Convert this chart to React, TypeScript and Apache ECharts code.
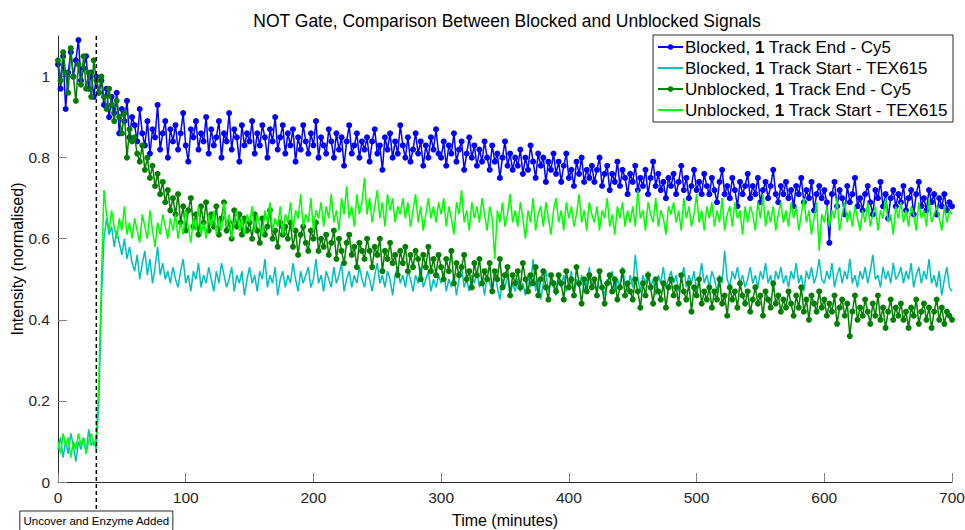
import React, { useEffect, useRef } from "react";
import * as echarts from "echarts";

// sampling interval of the recorded traces (minutes)
const STEP = 2;
const ANNOT_T = 30;
const X_MAX = 700;
const Y_MAX = 1.1;
const xTicks = [0, 100, 200, 300, 400, 500, 600, 700];
const yTicks = [0, 0.2, 0.4, 0.6, 0.8, 1];

const seriesNames = [
  "Blocked, 1 Track End - Cy5",
  "Blocked, 1 Track Start - TEX615",
  "Unblocked, 1 Track End - Cy5",
  "Unblocked, 1 Track Start - TEX615",
];

const blockedCy5 = [
  1.03, 0.97, 1.05, 0.92, 1.01, 1.06, 1.0, 1.04, 1.09, 0.99, 1.02, 1.05, 0.97, 1.01, 0.95,
  1.0, 0.96, 0.99, 0.93, 0.97, 0.9, 0.95, 0.91, 0.96, 0.86, 0.92, 0.89, 0.94, 0.85, 0.9,
  0.88, 0.84, 0.92, 0.86, 0.83, 0.89, 0.81, 0.87, 0.85, 0.93, 0.82, 0.86, 0.89, 0.8, 0.87,
  0.84, 0.88, 0.82, 0.86, 0.91, 0.83, 0.79, 0.87, 0.85, 0.89, 0.82, 0.86, 0.84, 0.9, 0.81,
  0.87, 0.83, 0.85, 0.89, 0.8, 0.86, 0.84, 0.91, 0.82, 0.87, 0.85, 0.79, 0.88, 0.83, 0.86,
  0.84, 0.89, 0.81, 0.86, 0.83, 0.88, 0.85, 0.8, 0.87, 0.84, 0.9, 0.82, 0.85, 0.88, 0.81,
  0.86, 0.83, 0.87, 0.79, 0.85, 0.82, 0.88, 0.84, 0.81, 0.86, 0.83, 0.89, 0.8, 0.85, 0.83,
  0.81, 0.87, 0.84, 0.8, 0.86, 0.82, 0.85, 0.78, 0.84, 0.88, 0.81, 0.83, 0.86, 0.8, 0.84,
  0.82, 0.85, 0.79, 0.84, 0.87, 0.81, 0.83, 0.77, 0.85, 0.82, 0.86, 0.8, 0.84, 0.81, 0.88,
  0.83, 0.8, 0.85, 0.79, 0.82, 0.86, 0.81, 0.84, 0.78, 0.83, 0.8, 0.85, 0.82, 0.87, 0.81,
  0.8, 0.84, 0.78, 0.83, 0.81, 0.86, 0.79, 0.82, 0.84, 0.77, 0.81, 0.85, 0.8, 0.83, 0.78,
  0.82, 0.79, 0.84, 0.8, 0.77, 0.83, 0.79, 0.81, 0.75, 0.8, 0.84, 0.78, 0.81, 0.77, 0.8,
  0.78, 0.82, 0.76, 0.8, 0.77, 0.83, 0.79, 0.75, 0.81, 0.78, 0.8, 0.74, 0.79, 0.77, 0.81,
  0.76, 0.79, 0.74, 0.78, 0.81, 0.75, 0.77, 0.73, 0.79, 0.76, 0.8, 0.74, 0.77, 0.75, 0.78,
  0.74, 0.77, 0.8, 0.73, 0.76, 0.78, 0.72, 0.76, 0.74, 0.79, 0.73, 0.77, 0.75, 0.71, 0.76,
  0.74, 0.78, 0.72, 0.75, 0.73, 0.77, 0.71, 0.75, 0.79, 0.73, 0.76, 0.72, 0.74, 0.7, 0.75,
  0.73, 0.76, 0.71, 0.74, 0.78, 0.72, 0.75, 0.7, 0.73, 0.77, 0.72, 0.74, 0.71, 0.76, 0.73,
  0.71, 0.75, 0.72, 0.69, 0.74, 0.77, 0.71, 0.73, 0.7, 0.75, 0.72, 0.68, 0.74, 0.71, 0.73,
  0.76, 0.7, 0.73, 0.71, 0.75, 0.69, 0.72, 0.74, 0.7, 0.73, 0.77, 0.71, 0.69, 0.73, 0.71,
  0.74, 0.7, 0.72, 0.68, 0.73, 0.71, 0.75, 0.69, 0.72, 0.7, 0.74, 0.67, 0.71, 0.73, 0.7,
  0.72, 0.69, 0.59, 0.71, 0.74, 0.68, 0.72, 0.7, 0.66, 0.73, 0.69, 0.71, 0.75, 0.68, 0.7,
  0.67, 0.71, 0.73, 0.69, 0.66, 0.72, 0.7, 0.74, 0.68, 0.71, 0.65, 0.7, 0.72, 0.68, 0.71,
  0.69, 0.73, 0.67, 0.7, 0.72, 0.66, 0.71, 0.74, 0.68, 0.7, 0.67, 0.72, 0.69, 0.71, 0.66,
  0.7, 0.68, 0.71, 0.67, 0.69, 0.68,
];

const blockedTex615 = [
  0.08, 0.11, 0.06, 0.1, 0.07, 0.12, 0.09, 0.05, 0.1, 0.08, 0.11, 0.07, 0.13, 0.09, 0.1,
  0.08, 0.2, 0.45, 0.6, 0.65, 0.61, 0.63, 0.58, 0.62, 0.59, 0.56, 0.6, 0.55, 0.58, 0.54,
  0.52, 0.56, 0.5, 0.54, 0.57, 0.51, 0.55, 0.49, 0.53, 0.58, 0.51, 0.54, 0.5, 0.52, 0.49,
  0.53, 0.5, 0.48, 0.52, 0.55, 0.49, 0.51, 0.47, 0.52, 0.5, 0.54, 0.48, 0.51, 0.49, 0.53,
  0.5, 0.47, 0.52, 0.49, 0.54, 0.51, 0.48, 0.5, 0.53, 0.47, 0.51, 0.49, 0.52, 0.46, 0.5,
  0.53, 0.49, 0.51, 0.47, 0.52, 0.5, 0.55, 0.48, 0.51, 0.49, 0.53, 0.46, 0.5, 0.52, 0.48,
  0.51, 0.49, 0.54, 0.5, 0.47, 0.52, 0.49, 0.51, 0.53, 0.48, 0.5, 0.55, 0.49, 0.51, 0.47,
  0.52, 0.5, 0.48, 0.53, 0.49, 0.51, 0.54, 0.47, 0.5, 0.52, 0.48, 0.51, 0.49, 0.53, 0.5,
  0.48, 0.52, 0.5, 0.47, 0.51, 0.54, 0.49, 0.51, 0.48, 0.52, 0.5, 0.46, 0.51, 0.53, 0.49,
  0.51, 0.48, 0.52, 0.5, 0.47, 0.51, 0.49, 0.53, 0.48, 0.5, 0.52, 0.47, 0.5, 0.48, 0.51,
  0.49, 0.52, 0.47, 0.5, 0.48, 0.51, 0.46, 0.5, 0.53, 0.48, 0.5, 0.47, 0.51, 0.49, 0.52,
  0.48, 0.5, 0.46, 0.51, 0.49, 0.47, 0.52, 0.48, 0.45, 0.5, 0.48, 0.51, 0.46, 0.49, 0.47,
  0.5, 0.47, 0.49, 0.46, 0.51, 0.48, 0.55, 0.47, 0.5, 0.45, 0.49, 0.52, 0.47, 0.5, 0.48,
  0.46, 0.5, 0.48, 0.51, 0.47, 0.49, 0.52, 0.46, 0.5, 0.48, 0.51, 0.47, 0.49, 0.53, 0.48,
  0.5, 0.47, 0.51, 0.48, 0.46, 0.5, 0.49, 0.52, 0.47, 0.5, 0.48, 0.53, 0.49, 0.47, 0.51,
  0.48, 0.56, 0.5, 0.47, 0.51, 0.49, 0.52, 0.48, 0.5, 0.46, 0.51, 0.49, 0.53, 0.48, 0.5,
  0.52, 0.49, 0.51, 0.47, 0.5, 0.53, 0.48, 0.51, 0.49, 0.52, 0.47, 0.5, 0.54, 0.49, 0.51,
  0.48, 0.52, 0.5, 0.47, 0.51, 0.49, 0.57, 0.5, 0.48, 0.52, 0.5, 0.53, 0.49, 0.51, 0.48,
  0.5, 0.53, 0.49, 0.51, 0.48, 0.52, 0.5, 0.54, 0.49, 0.51, 0.47, 0.52, 0.5, 0.53, 0.49,
  0.51, 0.48, 0.52, 0.5, 0.54, 0.49, 0.51, 0.47, 0.52, 0.5, 0.53, 0.49, 0.51, 0.55, 0.5,
  0.49, 0.52, 0.5, 0.54, 0.48, 0.51, 0.53, 0.49, 0.52, 0.5, 0.55, 0.49, 0.51, 0.48, 0.52,
  0.5, 0.53, 0.49, 0.52, 0.56, 0.5, 0.51, 0.48, 0.53, 0.5, 0.52, 0.49, 0.54, 0.5, 0.51,
  0.53, 0.49, 0.52, 0.5, 0.54, 0.48, 0.51, 0.53, 0.49, 0.52, 0.5, 0.55, 0.49, 0.51, 0.48,
  0.52, 0.46, 0.5, 0.53, 0.48, 0.47,
];

const unblockedCy5 = [
  1.04, 0.99, 1.06, 1.01, 0.96, 1.07, 1.0, 0.94, 1.03, 0.98, 1.05, 0.97, 1.01, 0.95, 1.04,
  0.99, 0.96, 1.0, 0.95, 0.92, 0.97, 0.93, 0.89, 0.94, 0.9, 0.86, 0.91, 0.8, 0.87, 0.84,
  0.85, 0.81, 0.79, 0.83, 0.77, 0.8, 0.75, 0.78, 0.73, 0.76, 0.71, 0.74, 0.69, 0.72, 0.67,
  0.7, 0.66, 0.71, 0.64, 0.68, 0.62, 0.67, 0.7, 0.63, 0.66, 0.61, 0.68, 0.64, 0.69, 0.62,
  0.66, 0.63, 0.68, 0.61, 0.65, 0.69, 0.62, 0.64, 0.6, 0.67, 0.63, 0.66, 0.61, 0.65, 0.62,
  0.64, 0.6, 0.66, 0.62, 0.59, 0.65, 0.61, 0.63, 0.67, 0.6, 0.62, 0.58, 0.64, 0.61, 0.63,
  0.6, 0.64, 0.58, 0.62, 0.56, 0.61, 0.63, 0.59, 0.57, 0.62, 0.6, 0.64, 0.57, 0.6, 0.58,
  0.61, 0.56, 0.59, 0.62, 0.55, 0.6, 0.57, 0.54, 0.59, 0.61, 0.56, 0.58, 0.53, 0.59, 0.57,
  0.55, 0.6, 0.57, 0.53, 0.58, 0.56, 0.6, 0.52, 0.57, 0.55, 0.59, 0.54, 0.56, 0.51, 0.57,
  0.54, 0.58, 0.52, 0.56, 0.53, 0.57, 0.55, 0.5, 0.56, 0.53, 0.58, 0.52, 0.55, 0.51, 0.56,
  0.53, 0.5, 0.55, 0.52, 0.57, 0.49, 0.54, 0.51, 0.53, 0.56, 0.5, 0.52, 0.48, 0.54, 0.51,
  0.55, 0.49, 0.52, 0.5, 0.54, 0.47, 0.52, 0.5, 0.55, 0.48, 0.51, 0.53, 0.46, 0.51, 0.49,
  0.52, 0.48, 0.54, 0.5, 0.47, 0.51, 0.49, 0.53, 0.46, 0.5, 0.52, 0.48, 0.45, 0.51, 0.49,
  0.47, 0.51, 0.49, 0.45, 0.52, 0.48, 0.5, 0.46, 0.53, 0.49, 0.44, 0.5, 0.47, 0.51, 0.48,
  0.5, 0.46, 0.52, 0.48, 0.44, 0.49, 0.51, 0.47, 0.5, 0.45, 0.48, 0.52, 0.46, 0.49, 0.47,
  0.45, 0.5, 0.47, 0.43, 0.49, 0.46, 0.51, 0.48, 0.44, 0.5, 0.47, 0.45, 0.49, 0.43, 0.48,
  0.5, 0.46, 0.48, 0.44, 0.51, 0.47, 0.45, 0.49, 0.42, 0.48, 0.46, 0.5, 0.44, 0.47, 0.45,
  0.48, 0.43, 0.47, 0.45, 0.5, 0.44, 0.46, 0.41, 0.48, 0.45, 0.47, 0.43, 0.49, 0.46, 0.44,
  0.47, 0.42, 0.45, 0.48, 0.44, 0.46, 0.41, 0.47, 0.45, 0.43, 0.49, 0.44, 0.46, 0.42, 0.45,
  0.43, 0.47, 0.44, 0.41, 0.46, 0.43, 0.48, 0.42, 0.45, 0.4, 0.46, 0.44, 0.42, 0.47, 0.43,
  0.45, 0.41, 0.44, 0.42, 0.46, 0.39, 0.43, 0.45, 0.41, 0.44, 0.36, 0.42, 0.46, 0.4, 0.43,
  0.41, 0.45, 0.42, 0.39, 0.44, 0.41, 0.46, 0.4, 0.43, 0.38, 0.42, 0.45, 0.4, 0.43, 0.41,
  0.44, 0.4, 0.42, 0.38, 0.43, 0.41, 0.45, 0.39, 0.42, 0.44, 0.4, 0.43, 0.38, 0.42, 0.45,
  0.4, 0.43, 0.39, 0.42, 0.41, 0.4,
];

const unblockedTex615 = [
  0.1, 0.07, 0.12, 0.09, 0.11, 0.06, 0.1, 0.08, 0.12, 0.09, 0.11, 0.07, 0.1, 0.12, 0.09,
  0.11, 0.25, 0.5, 0.72, 0.66, 0.62, 0.67, 0.63, 0.6, 0.65, 0.62, 0.68, 0.61, 0.64, 0.6,
  0.65, 0.62, 0.59, 0.66, 0.63, 0.6, 0.67, 0.62, 0.58, 0.64, 0.61, 0.66, 0.63, 0.6, 0.65,
  0.62, 0.66, 0.6, 0.64, 0.61, 0.67, 0.63, 0.59, 0.65, 0.62, 0.68, 0.61, 0.64, 0.6, 0.66,
  0.63, 0.67, 0.61, 0.65, 0.62, 0.69, 0.63, 0.66, 0.6, 0.64, 0.67, 0.62, 0.65, 0.61, 0.66,
  0.64, 0.68, 0.62, 0.66, 0.63, 0.61, 0.67, 0.64, 0.69, 0.62, 0.65, 0.63, 0.68, 0.61, 0.66,
  0.64, 0.69, 0.62, 0.67, 0.65, 0.71, 0.63, 0.66, 0.64, 0.7, 0.62, 0.67, 0.65, 0.69, 0.63,
  0.68, 0.65, 0.71, 0.64, 0.67, 0.62, 0.7, 0.66, 0.73, 0.65, 0.68, 0.63, 0.71, 0.66, 0.69,
  0.75, 0.66, 0.7, 0.64, 0.68, 0.72, 0.65, 0.69, 0.63, 0.71, 0.67, 0.7, 0.64, 0.68, 0.66,
  0.7, 0.65, 0.69, 0.63, 0.67, 0.71, 0.64, 0.68, 0.62, 0.66, 0.7, 0.65, 0.68, 0.64, 0.69,
  0.66, 0.7, 0.63, 0.68, 0.65, 0.61, 0.69, 0.66, 0.72, 0.64, 0.67, 0.62, 0.69, 0.65, 0.68,
  0.64, 0.7, 0.66, 0.62, 0.68, 0.65, 0.55, 0.67, 0.64, 0.69, 0.63, 0.66, 0.71, 0.64, 0.67,
  0.63, 0.69, 0.65, 0.6, 0.67, 0.64, 0.7, 0.62, 0.66, 0.68, 0.63, 0.69, 0.65, 0.61, 0.67,
  0.7, 0.64, 0.67, 0.62, 0.69, 0.65, 0.68, 0.63, 0.66, 0.71, 0.64, 0.67, 0.62, 0.69, 0.66,
  0.64, 0.68, 0.62, 0.67, 0.65, 0.7, 0.63, 0.66, 0.61, 0.68, 0.65, 0.69, 0.63, 0.67, 0.64,
  0.68, 0.63, 0.72, 0.65, 0.67, 0.62, 0.69, 0.66, 0.64, 0.7, 0.63, 0.67, 0.65, 0.61, 0.68,
  0.66, 0.69, 0.64, 0.67, 0.62, 0.7, 0.65, 0.68, 0.63, 0.66, 0.71, 0.64, 0.67, 0.62, 0.68,
  0.65, 0.69, 0.63, 0.67, 0.64, 0.7, 0.62, 0.66, 0.68, 0.63, 0.69, 0.65, 0.67, 0.61, 0.68,
  0.64, 0.68, 0.66, 0.62, 0.69, 0.65, 0.71, 0.63, 0.67, 0.64, 0.68, 0.62, 0.66, 0.69, 0.64,
  0.67, 0.63, 0.69, 0.65, 0.68, 0.62, 0.66, 0.7, 0.64, 0.67, 0.61, 0.65, 0.69, 0.57, 0.66,
  0.64, 0.68, 0.63, 0.67, 0.65, 0.7, 0.62, 0.66, 0.69, 0.64, 0.67, 0.63, 0.68, 0.65, 0.62,
  0.67, 0.64, 0.69, 0.63, 0.66, 0.68, 0.62, 0.67, 0.65, 0.7, 0.64, 0.66, 0.61, 0.68, 0.65,
  0.69, 0.64, 0.67, 0.63, 0.68, 0.66, 0.62, 0.69, 0.65, 0.67, 0.63, 0.7, 0.64, 0.66, 0.68,
  0.65, 0.62, 0.68, 0.64, 0.67, 0.66,
];

const seriesValues = [blockedCy5, blockedTex615, unblockedCy5, unblockedTex615];
const seriesColors = ["#0000ff", "#00bfbf", "#007f00", "#00ff00"];
const seriesMarkers = [true, false, true, false];

const FONT = "'Liberation Sans', Arial, Helvetica, sans-serif";
const LEGEND_FS = 17;

export default function App() {
  const ref = useRef<HTMLDivElement>(null);

  useEffect(() => {
    if (!ref.current) return;
    const chart = echarts.init(ref.current, undefined, { renderer: "svg" });

    const series = seriesNames.map((name, k) => ({
      name,
      type: "line",
      data: seriesValues[k].map((v, i) => [i * STEP, v]),
      symbol: seriesMarkers[k] ? "circle" : "none",
      showSymbol: seriesMarkers[k],
      symbolSize: 6,
      lineStyle: { color: seriesColors[k], width: 1.5 },
      itemStyle: { color: seriesColors[k] },
      z: 2 + k,
      clip: true,
    }));

    const legendData = seriesNames.map((name, k) =>
      seriesMarkers[k]
        ? { name }
        : { name, itemStyle: { opacity: 0, borderWidth: 0 } }
    );

    chart.setOption({
      animation: false,
      textStyle: { fontFamily: FONT },
      title: {
        text: "NOT Gate, Comparison Between Blocked and Unblocked Signals",
        left: 502,
        top: 7,
        textAlign: "center",
        textStyle: { fontSize: 17.5, fontWeight: "normal", color: "#000", fontFamily: FONT },
      },
      legend: {
        orient: "vertical",
        right: 12,
        top: 35,
        backgroundColor: "#fff",
        borderColor: "#262626",
        borderWidth: 1,
        borderRadius: 0,
        padding: [2, 5, 2, 4],
        itemGap: 1,
        itemWidth: 25,
        itemHeight: 7,
        data: legendData,
        formatter: (name: string) => {
          const parts = name.split(", 1 ");
          return `{n|${parts[0]}, }{b|1}{n| ${parts[1]}}`;
        },
        textStyle: {
          fontSize: LEGEND_FS,
          lineHeight: 20,
          color: "#000",
          fontFamily: FONT,
          padding: [0, 0, 0, -3],
          rich: {
            n: { fontSize: LEGEND_FS, lineHeight: 20, color: "#000", fontFamily: FONT },
            b: { fontSize: LEGEND_FS, lineHeight: 20, color: "#000", fontWeight: "bold", fontFamily: FONT },
          },
        },
      },
      grid: { left: 58, right: 13, top: 36, bottom: 48, containLabel: false, outerBoundsMode: "none" },
      xAxis: {
        type: "value",
        min: 0,
        max: X_MAX,
        interval: 100,
        name: "Time (minutes)",
        nameLocation: "middle",
        nameGap: 30,
        nameMoveOverlap: false,
        nameTextStyle: { fontSize: 16, color: "#000", fontFamily: FONT },
        axisLine: { show: true, onZero: false, lineStyle: { color: "#262626", width: 1 } },
        axisTick: { show: true, inside: true, length: 9, customValues: xTicks, lineStyle: { color: "#808080" } },
        axisLabel: { customValues: xTicks, fontSize: 15.5, color: "#262626", margin: 7 },
        splitLine: { show: false },
      },
      yAxis: {
        type: "value",
        min: 0,
        max: Y_MAX,
        name: "Intensity (normalised)",
        nameLocation: "middle",
        nameRotate: 90,
        nameGap: 33,
        nameMoveOverlap: false,
        nameTextStyle: { fontSize: 16, color: "#000", fontFamily: FONT },
        axisLine: { show: true, onZero: false, lineStyle: { color: "#262626", width: 1 } },
        axisTick: { show: true, inside: true, length: 9, customValues: yTicks, lineStyle: { color: "#808080" } },
        axisLabel: { customValues: yTicks, fontSize: 15.5, color: "#262626", margin: 8 },
        splitLine: { show: false },
      },
      series,
    });

    const xPix = chart.convertToPixel({ xAxisIndex: 0 }, ANNOT_T) as number;
    const yTop = chart.convertToPixel({ yAxisIndex: 0 }, Y_MAX) as number;
    const boxW = 153;
    const boxTop = 511;
    chart.setOption({
      graphic: [
        {
          type: "line",
          z: 50,
          shape: { x1: xPix, y1: yTop, x2: xPix, y2: boxTop },
          style: { stroke: "#000", lineWidth: 1.5, lineDash: [4, 3] },
        },
        {
          type: "rect",
          z: 51,
          shape: { x: xPix - boxW / 2, y: boxTop, width: boxW, height: 26 },
          style: { fill: "#fff", stroke: "#262626", lineWidth: 1 },
        },
        {
          type: "text",
          z: 52,
          x: xPix,
          y: boxTop + 10,
          style: {
            text: "Uncover and Enzyme Added",
            fontSize: 11.5,
            fontFamily: FONT,
            fill: "#000",
            align: "center",
            verticalAlign: "middle",
          },
        },
      ],
    });

    return () => chart.dispose();
  }, []);

  return (
    <div
      ref={ref}
      style={{ position: "absolute", left: 0, top: 0, width: 965, height: 530, background: "#fff" }}
    />
  );
}
